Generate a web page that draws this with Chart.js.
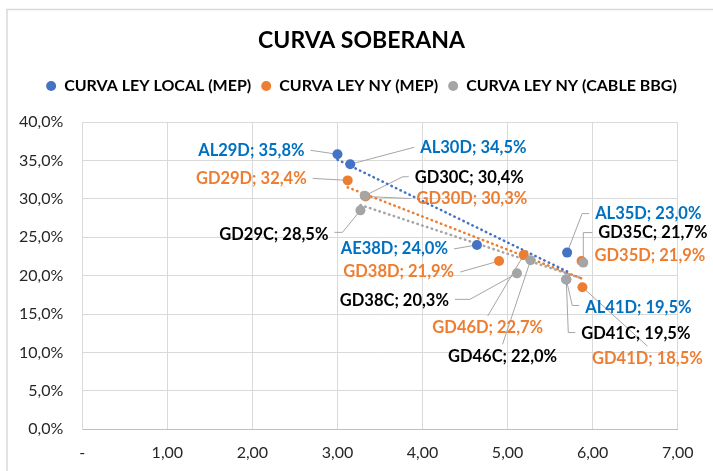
<!DOCTYPE html>
<html>
<head>
<meta charset="utf-8">
<script src="https://cdn.jsdelivr.net/npm/chart.js@4.4.1/dist/chart.umd.min.js"></script>
<style>
  html, body { margin: 0; padding: 0; background: #fff; }
</style>
</head>
<body>
<canvas id="chart" width="713" height="471"></canvas>
<script>
// -------------------------------
// Daten
// -------------------------------
const seriesNames = ["CURVA LEY LOCAL (MEP)", "CURVA LEY NY (MEP)", "CURVA LEY NY (CABLE BBG)"];

const localBonds = ["AL29D", "AL30D", "AE38D", "AL35D", "AL41D"];
const localDur = [3.00, 3.15, 4.64, 5.70, 5.69];
const localTir = [35.8, 34.5, 24.0, 23.0, 19.5];

const nyMepBonds = ["GD29D", "GD30D", "GD38D", "GD46D", "GD35D", "GD41D"];
const nyMepDur = [3.12, 3.33, 4.90, 5.19, 5.87, 5.88];
const nyMepTir = [32.4, 30.3, 21.9, 22.7, 21.9, 18.5];

const nyCableBonds = ["GD29C", "GD30C", "GD38C", "GD46C", "GD35C", "GD41C"];
const nyCableDur = [3.27, 3.32, 5.11, 5.27, 5.89, 5.69];
const nyCableTir = [28.5, 30.4, 20.3, 22.0, 21.7, 19.5];

const xTickLabels = ["-", "1,00", "2,00", "3,00", "4,00", "5,00", "6,00", "7,00"];
const yTickLabels = ["0,0%", "5,0%", "10,0%", "15,0%", "20,0%", "25,0%", "30,0%", "35,0%", "40,0%"];

// -------------------------------
// Label-Positionen (Pixel relativ zum Punkt)
// -------------------------------
const labelPos = {
    AL29D: { dx: -33, dy: -4, align: "right" },
    AL30D: { dx: 70, dy: -17, align: "left" },
    AE38D: { dx: -29, dy: 4, align: "right" },
    AL35D: { dx: 28, dy: -39, align: "left", elbow: [15, -39] },
    AL41D: { dx: 19, dy: 28, align: "left", elbow: [6, 26] },
    GD29D: { dx: -41, dy: -2, align: "right" },
    GD30D: { dx: 51, dy: 2, align: "left" },
    GD38D: { dx: -45, dy: 11, align: "right" },
    GD46D: { dx: -36, dy: 73, align: "center" },
    GD35D: { dx: 13, dy: -5, align: "left", noLine: true },
    GD41D: { dx: 65, dy: 71, align: "center" },
    GD29C: { dx: -32, dy: 24, align: "right", elbow: [-18, 22] },
    GD30C: { dx: 50, dy: -18, align: "left", elbow: [38, -19] },
    GD38C: { dx: -68, dy: 27, align: "right", elbow: [-47, 26] },
    GD46C: { dx: -28, dy: 96, align: "center" },
    GD35C: { dx: 15, dy: -30, align: "left", elbow: [0, -30] },
    GD41C: { dx: 15, dy: 54, align: "left", elbow: [2, 53] }
};

const series = [
    { names: localBonds, dur: localDur, tir: localTir, color: "#4472C4", labelColor: "#0070C0" },
    { names: nyMepBonds, dur: nyMepDur, tir: nyMepTir, color: "#ED7D31", labelColor: "#ED7D31" },
    { names: nyCableBonds, dur: nyCableDur, tir: nyCableTir, color: "#A5A5A5", labelColor: "#000000" }
];

function toPoints(xs, ys) {
    return xs.map((x, i) => ({ x: x, y: ys[i] }));
}

// lineare Trendlinie (kleinste Quadrate) ueber den Bereich der Daten
function trend(xs, ys) {
    const n = xs.length;
    const mx = xs.reduce((a, b) => a + b, 0) / n;
    const my = ys.reduce((a, b) => a + b, 0) / n;
    let sxy = 0, sxx = 0;
    xs.forEach((x, i) => {
        sxy += (x - mx) * (ys[i] - my);
        sxx += (x - mx) * (x - mx);
    });
    const b = sxy / sxx;
    const a = my - b * mx;
    const x0 = Math.min(...xs), x1 = Math.max(...xs);
    return [{ x: x0, y: a + b * x0 }, { x: x1, y: a + b * x1 }];
}

function fmt(v) {
    return v.toFixed(1).replace(".", ",") + "%";
}

// -------------------------------
// Plugins
// -------------------------------
const frame = {
    id: "frame",
    beforeDraw(chart) {
        const c = chart.ctx;
        c.save();
        c.fillStyle = "#fff";
        c.fillRect(0, 0, chart.width, chart.height);
        c.strokeStyle = "#D9D9D9";
        c.lineWidth = 1.5;
        c.strokeRect(7, 9.5, chart.width + 20, chart.height + 20);
        c.restore();
    }
};

const pointLabels = {
    id: "pointLabels",
    beforeDatasetsDraw(chart) {
        const c = chart.ctx;
        c.save();
        c.strokeStyle = "#A6A6A6";
        c.lineWidth = 1;
        series.forEach((s, di) => {
            chart.getDatasetMeta(di).data.forEach((pt, i) => {
                const lp = labelPos[s.names[i]];
                if (!lp || lp.noLine) return;
                const tx = pt.x + lp.dx, ty = pt.y + lp.dy;
                let ex, ey;
                if (lp.align === "center") { ex = tx; ey = ty - 12; }
                else { ex = lp.align === "left" ? tx - 6 : tx + 6; ey = ty; }
                c.beginPath();
                c.moveTo(pt.x, pt.y);
                if (lp.elbow) {
                    const by = pt.y + lp.elbow[1];
                    c.lineTo(pt.x + lp.elbow[0], by);
                    c.lineTo(ex, by);
                } else {
                    c.lineTo(ex, ey);
                }
                c.stroke();
            });
        });
        c.restore();
    },
    afterDatasetsDraw(chart) {
        const c = chart.ctx;
        c.save();
        c.font = "bold 16.5px Lato";
        c.textBaseline = "middle";
        series.forEach((s, di) => {
            chart.getDatasetMeta(di).data.forEach((pt, i) => {
                const name = s.names[i];
                const lp = labelPos[name];
                if (!lp) return;
                c.fillStyle = s.labelColor;
                c.textAlign = lp.align;
                c.fillText(name + "; " + fmt(s.tir[i]), pt.x + lp.dx, pt.y + lp.dy);
            });
        });
        c.restore();
    }
};

// -------------------------------
// Chart
// -------------------------------
Chart.defaults.font.family = "Lato, 'Open Sans', sans-serif";

const scatterSets = series.map((s, i) => ({
    label: seriesNames[i],
    data: toPoints(s.dur, s.tir),
    backgroundColor: s.color,
    borderColor: s.color,
    borderWidth: 0,
    pointRadius: 5,
    pointHoverRadius: 5,
    order: 2 - i
}));

const trendSets = series.map((s, i) => ({
    label: "trend " + i,
    data: trend(s.dur, s.tir),
    showLine: true,
    borderColor: s.color,
    borderWidth: 2.5,
    borderDash: [0.5, 4.5],
    borderCapStyle: "round",
    pointRadius: 0,
    fill: false,
    order: 5
}));

new Chart(document.getElementById("chart"), {
    type: "scatter",
    data: { datasets: scatterSets.concat(trendSets) },
    options: {
        responsive: false,
        animation: false,
        devicePixelRatio: 1,
        layout: { padding: { left: 10, right: 0, top: 0, bottom: 0 } },
        plugins: {
            tooltip: { enabled: false },
            title: {
                display: true,
                text: "CURVA SOBERANA",
                color: "#000",
                font: { size: 23, weight: "bold" },
                padding: { top: 27, bottom: 13.4 }
            },
            subtitle: {
                display: true,
                text: "",
                font: { size: 1 },
                padding: { top: 0, bottom: 16.8 }
            },
            legend: {
                position: "top",
                weight: 1800,
                labels: {
                    usePointStyle: true,
                    pointStyle: "circle",
                    boxHeight: 7,
                    pointStyleWidth: 10,
                    padding: 10,
                    color: "#000",
                    font: { size: 16, weight: "bold" },
                    filter: item => item.datasetIndex < 3,
                    sort: (a, b) => a.datasetIndex - b.datasetIndex
                }
            }
        },
        scales: {
            x: {
                type: "linear",
                min: 0,
                max: 7,
                afterFit: scale => { scale.height = 41.7; },
                ticks: {
                    stepSize: 1,
                    padding: 14,
                    color: "#262626",
                    font: { size: 16 },
                    callback: (v, i) => xTickLabels[i]
                },
                grid: { color: "#D9D9D9", drawTicks: false },
                border: { color: "#BFBFBF" }
            },
            y: {
                min: 0,
                max: 40,
                afterFit: scale => { scale.width = 72.3; },
                ticks: {
                    stepSize: 5,
                    padding: 19,
                    color: "#262626",
                    font: { size: 16 },
                    callback: (v, i) => yTickLabels[i]
                },
                grid: { color: "#D9D9D9", drawTicks: false },
                border: { color: "#D9D9D9" }
            },
            // leere Achse rechts, nur als Rand
            yRight: {
                position: "right",
                min: 0,
                max: 1,
                afterFit: scale => { scale.width = 35.3; },
                ticks: { display: false },
                grid: { display: false },
                border: { display: false }
            }
        }
    },
    plugins: [frame, pointLabels]
});
</script>
</body>
</html>
